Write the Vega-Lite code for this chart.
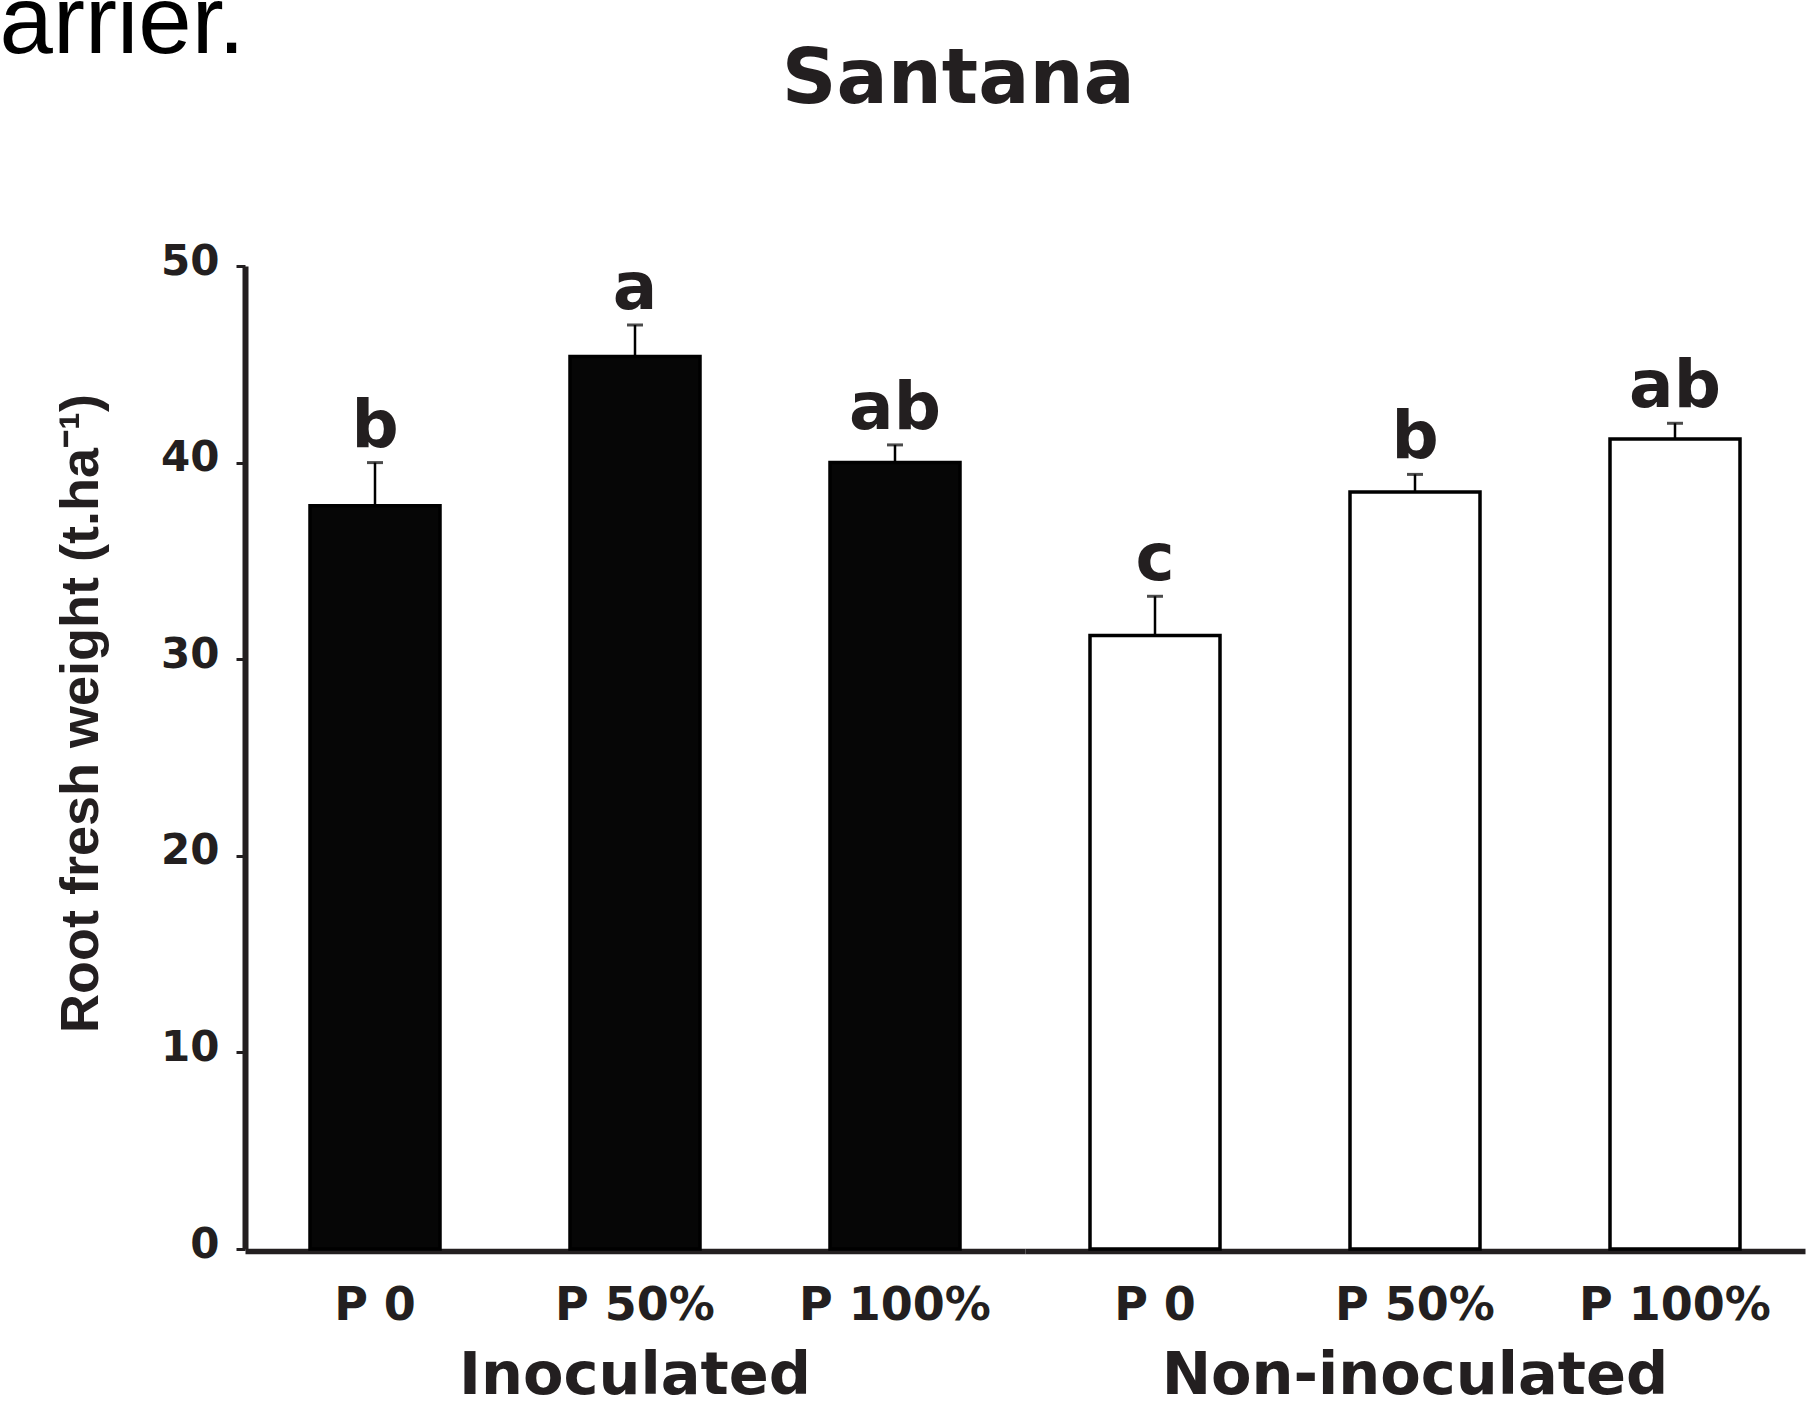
{
  "$schema": "https://vega.github.io/schema/vega-lite/v6.json",
  "background": "white",
  "padding": {"left": -1, "top": -24, "right": 8, "bottom": 0},
  "title": {"text": "Santana", "anchor": "middle", "frame": "bounds", "dx": 56, "offset": -203, "baseline": "alphabetic", "font": "DejaVu Sans", "fontSize": 76, "fontWeight": "bold", "color": "#231f20"},
  "data": {"values": [
    {"group": "Inoculated", "treatment": "P 0", "mean": 37.8, "upper": 40.0, "letter": "b"},
    {"group": "Inoculated", "treatment": "P 50%", "mean": 45.4, "upper": 47.0, "letter": "a"},
    {"group": "Inoculated", "treatment": "P 100%", "mean": 40.0, "upper": 40.9, "letter": "ab"},
    {"group": "Non-inoculated", "treatment": "P 0", "mean": 31.2, "upper": 33.2, "letter": "c"},
    {"group": "Non-inoculated", "treatment": "P 50%", "mean": 38.5, "upper": 39.4, "letter": "b"},
    {"group": "Non-inoculated", "treatment": "P 100%", "mean": 41.2, "upper": 42.0, "letter": "ab"}
  ]},
  "facet": {"column": {"field": "group", "type": "nominal", "sort": ["Inoculated", "Non-inoculated"], "title": "arrier."}},
  "spacing": 0,
  "spec": {
    "width": 780,
    "height": 983,
    "encoding": {
      "x": {"field": "treatment", "type": "nominal", "sort": ["P 0", "P 50%", "P 100%"], "scale": {"paddingInner": 0.5, "paddingOuter": 0.25},
        "axis": {"title": null, "labelAngle": 0, "ticks": false, "tickSize": 0, "labelPadding": 32, "labelLimit": 400, "labelFont": "DejaVu Sans", "labelFontWeight": "bold", "labelFontSize": 46, "labelColor": "#231f20", "domainColor": "#231f20", "domainWidth": 5.5}}
    },
    "layer": [
      {"mark": {"type": "bar", "stroke": "black", "strokeWidth": 3.5},
       "encoding": {
         "y": {"field": "mean", "type": "quantitative", "scale": {"domain": [0, 50]},
           "axis": {"values": [0, 10, 20, 30, 40, 50], "title": "Root fresh weight (t.ha⁻¹)", "titleFont": "Liberation Sans", "titleFontWeight": "bold", "titleFontSize": 54, "titleColor": "#231f20", "titlePadding": 52, "titleY": 447,
             "labelFont": "DejaVu Sans", "labelFontWeight": "bold", "labelFontSize": 42, "labelColor": "#231f20", "labelPadding": 17, "labelOffset": -5, "tickSize": 9, "tickWidth": 3, "tickColor": "#231f20", "domainColor": "#231f20", "domainWidth": 6, "grid": false}},
         "fill": {"field": "group", "type": "nominal", "scale": {"domain": ["Inoculated", "Non-inoculated"], "range": ["#060606", "#ffffff"]}, "legend": null}
       }},
      {"mark": {"type": "rule", "color": "black", "strokeWidth": 2.5},
       "encoding": {"y": {"field": "mean", "type": "quantitative"}, "y2": {"field": "upper"}}},
      {"mark": {"type": "tick", "color": "black", "size": 16, "thickness": 3},
       "encoding": {"y": {"field": "upper", "type": "quantitative"}}},
      {"mark": {"type": "text", "baseline": "alphabetic", "dy": -16, "font": "DejaVu Sans", "fontWeight": "bold", "fontSize": 66, "color": "#231f20"},
       "encoding": {"y": {"field": "upper", "type": "quantitative"}, "text": {"field": "letter"}}}
    ]
  },
  "config": {
    "view": {"stroke": null},
    "header": {"labelOrient": "bottom", "labelFont": "DejaVu Sans", "labelFontWeight": "bold", "labelFontSize": 59, "labelColor": "#231f20", "labelPadding": 19, "labelLimit": 0,
      "titleOrient": "top", "titleAnchor": "start", "titleAlign": "right", "titleBaseline": "alphabetic", "titleFont": "Liberation Sans", "titleFontWeight": "normal", "titleFontSize": 96, "titleColor": "black", "titlePadding": 96}
  }
}
